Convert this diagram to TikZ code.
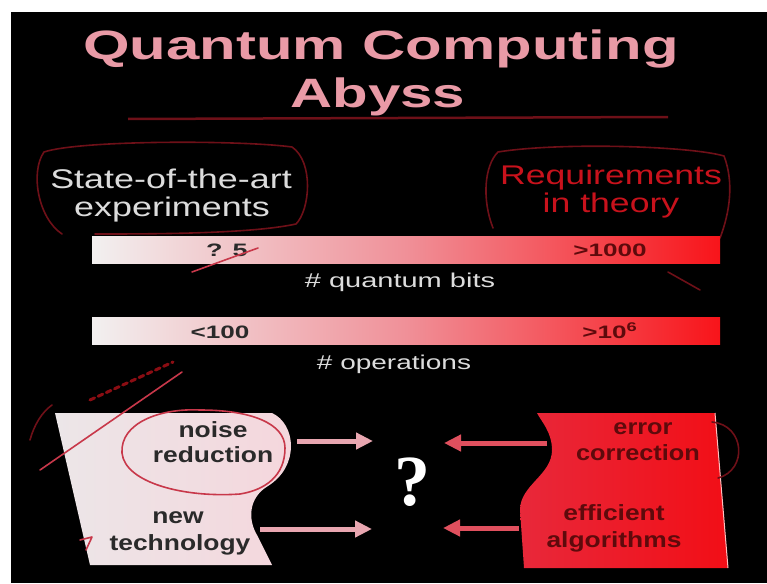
\documentclass[tikz,border=0pt]{standalone}
\usepackage{fontspec}
\usepackage{graphicx}
\setmainfont{Liberation Sans}
\newfontfamily\serifq{Liberation Serif}
\usetikzlibrary{arrows.meta}
\definecolor{titlepink}{HTML}{E99AA6}
\definecolor{lightgrey}{HTML}{DCDCDC}
\definecolor{reqred}{HTML}{C8121C}
\definecolor{barwhite}{HTML}{F2F0F0}
\definecolor{barpink}{HTML}{F09098}
\definecolor{barred}{HTML}{F8141A}
\definecolor{darktext}{HTML}{2A2A2A}
\definecolor{maroon}{HTML}{5E0A0C}
\definecolor{leftA}{HTML}{ECE6E8}
\definecolor{leftB}{HTML}{F5D6DC}
\definecolor{rightA}{HTML}{E8283A}
\definecolor{rightB}{HTML}{F20E16}
\definecolor{arrowpink}{HTML}{E8A6B0}
\definecolor{arrowred}{HTML}{E0505E}
\definecolor{scribble}{HTML}{6E1018}
\definecolor{scribred}{HTML}{C8384A}
\newcommand{\wide}[2]{\scalebox{#1}[1]{#2}}
\tikzset{
  titletext/.style={text=titlepink,font=\fontsize{41}{41}\selectfont\bfseries,inner sep=0pt,anchor=base},
  sidetext/.style={font=\fontsize{27}{27}\selectfont,inner sep=0pt,anchor=base},
  bartext/.style={font=\fontsize{18}{18}\selectfont\bfseries,inner sep=0pt,anchor=base},
  captext/.style={text=lightgrey,font=\fontsize{20}{20}\selectfont,inner sep=0pt,anchor=base},
  boxtext/.style={font=\fontsize{22}{22}\selectfont\bfseries,inner sep=0pt,anchor=base},
  barbox/.style={inner sep=0pt,minimum width=628pt,minimum height=27pt,left color=barwhite,right color=barred,middle color=barpink},
  arrowL/.style={draw=arrowpink,line width=5pt,-{Triangle[width=16pt,length=17pt]}},
  arrowR/.style={draw=arrowred,line width=5pt,-{Triangle[width=16pt,length=17pt]}},
  scrib/.style={draw=scribble,line width=1.6pt,line cap=round,line join=round},
  scribr/.style={draw=scribred,line width=1.6pt,line cap=round,line join=round}
}
\begin{document}
\begin{tikzpicture}[x=1pt,y=-1pt]
\useasboundingbox (0,0) rectangle (767,583);
\fill[white] (0,0) rectangle (767,583);
\fill[black] (11,12) rectangle (767,583);

% title
\node[titletext] (t1) at (381,60) {\wide{1.46}{Quantum Computing}};
\node[titletext] (t2) at (378,107) {\wide{1.42}{Abyss}};
\draw[draw=scribble,line width=2.5pt] (128,119) -- (668,117);

% side labels
\node[sidetext,text=lightgrey] (sa1) at (171,188) {\wide{1.33}{State-of-the-art}};
\node[sidetext,text=lightgrey] (sa2) at (172,216) {\wide{1.33}{experiments}};
\node[sidetext,text=reqred] (rq1) at (611,184) {\wide{1.32}{Requirements}};
\node[sidetext,text=reqred] (rq2) at (611,212) {\wide{1.32}{in theory}};

% scribbled loops around side labels
\draw[scrib] (62,234) .. controls (38,218) and (30,172) .. (44,152) .. controls (80,140) and (240,140) .. (292,147) .. controls (314,162) and (310,210) .. (296,224) .. controls (250,234) and (150,234) .. (95,234);
\draw[scrib] (493,228) .. controls (482,200) and (484,166) .. (498,152) .. controls (560,142) and (690,146) .. (724,156) .. controls (734,182) and (730,212) .. (720,238);
\draw[scrib] (668,272) -- (700,290);

% bars
\node[barbox] (bar1) at (406,250) {};
\node[barbox] (bar2) at (406,330.5) {};
\node[bartext,text=darktext] (b1l) at (227,256) {\wide{1.5}{? 5}};
\node[bartext,text=maroon] (b1r) at (610,256) {\wide{1.45}{>1000}};
\node[bartext,text=darktext] (b2l) at (220,338) {\wide{1.45}{<100}};
\node[bartext,text=maroon] (b2r) at (610,338) {\wide{1.45}{>10\textsuperscript{6}}};
\node[captext] (c1) at (400,287) {\wide{1.45}{\# quantum bits}};
\node[captext] (c2) at (394,369) {\wide{1.4}{\# operations}};
\draw[scribr] (192,272) -- (258,248);

% left scribbles
\draw[scrib] (30,440) .. controls (34,425) and (42,412) .. (52,405);
\draw[draw=scribble!80!red,line width=3pt,line cap=round,dash pattern=on 5pt off 4pt] (90,400) -- (173,362);

% left shape
\path[left color=leftA,right color=leftB] (55,413) -- (272,413) .. controls (296,424) and (300,466) .. (268,486) .. controls (248,498) and (248,520) .. (257,535) -- (272,565) -- (90,565) -- cycle;
\draw[scribr] (40,470) -- (182,372);
\draw[scribr] (80,540) -- (92,537) -- (86,550);
\node[boxtext,text=darktext] (nr1) at (213,437) {\wide{1.2}{noise}};
\node[boxtext,text=darktext] (nr2) at (213,462) {\wide{1.2}{reduction}};
\node[boxtext,text=darktext] (nt1) at (178,523) {\wide{1.2}{new}};
\node[boxtext,text=darktext] (nt2) at (180,550) {\wide{1.2}{technology}};
\draw[scribr] (240,494) .. controls (185,498) and (125,483) .. (122,453) .. controls (120,423) and (160,408) .. (200,410) .. controls (250,410) and (285,423) .. (285,448) .. controls (285,476) and (265,490) .. (240,494);

% right shape
\path[left color=rightA,right color=rightB] (537,413) -- (715,413) -- (728,568) -- (524,568) -- (520,510) .. controls (520,485) and (552,475) .. (552,450) .. controls (552,432) and (541,421) .. (537,413) -- cycle;
\draw[white!75!red,line width=1pt] (715,413) -- (728,568);
\node[boxtext,text=maroon] (ec1) at (643,434) {\wide{1.15}{error}};
\node[boxtext,text=maroon] (ec2) at (638,460) {\wide{1.15}{correction}};
\node[boxtext,text=maroon] (ea1) at (614,520) {\wide{1.2}{efficient}};
\node[boxtext,text=maroon] (ea2) at (614,547) {\wide{1.2}{algorithms}};
\draw[scrib] (712,422) .. controls (745,425) and (748,470) .. (718,478);

% question mark
\node[text=white,font=\fontsize{72}{72}\selectfont\serifq\bfseries,inner sep=0pt,anchor=base] (q) at (412,505) {?};

% arrows
\coordinate (la1s) at (297,441);
\coordinate (la1e) at (373,441);
\coordinate (la2s) at (260,529);
\coordinate (la2e) at (372,529);
\coordinate (ra1s) at (547,443);
\coordinate (ra1e) at (444,443);
\coordinate (ra2s) at (519,528);
\coordinate (ra2e) at (443,528);
\draw[arrowL] (la1s) -- (la1e);
\draw[arrowL] (la2s) -- (la2e);
\draw[arrowR] (ra1s) -- (ra1e);
\draw[arrowR] (ra2s) -- (ra2e);
\end{tikzpicture}
\end{document}
